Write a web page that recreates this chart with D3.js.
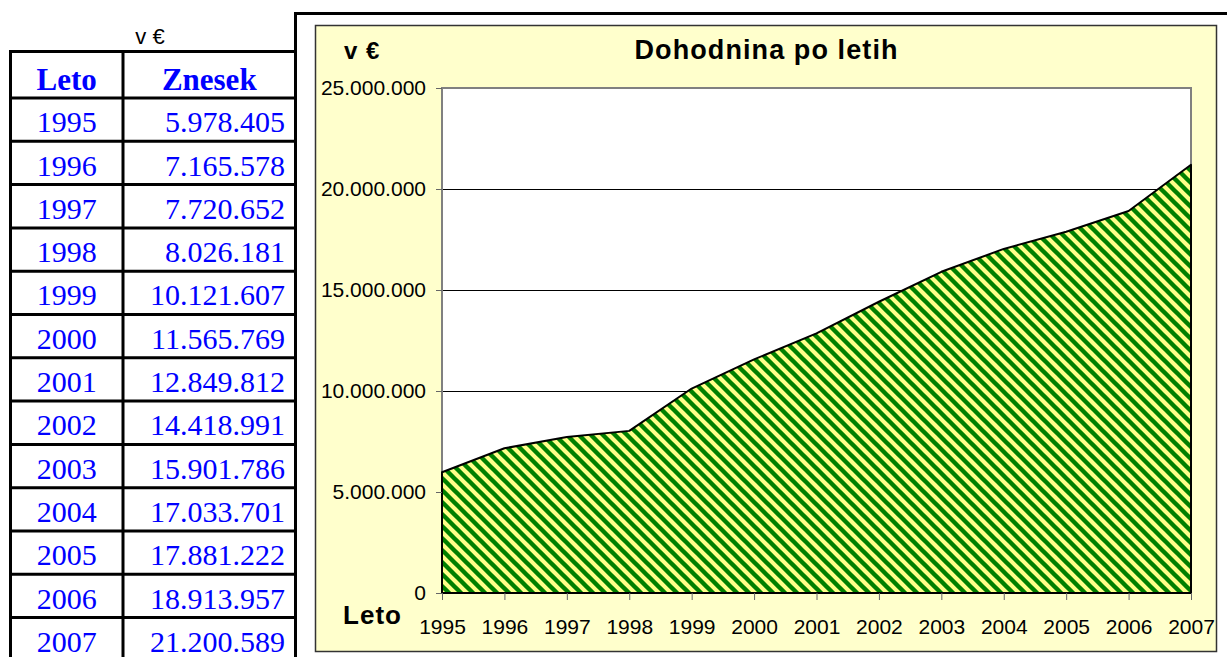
<!DOCTYPE html>
<html>
<head>
<meta charset="utf-8">
<script src="https://cdn.jsdelivr.net/npm/d3@7"></script>
<style>
  body { margin: 0; background: #fff; }
  svg { display: block; }
</style>
</head>
<body>
<svg width="1227" height="657"></svg>
<script>
var svg = d3.select("svg"),
    width = +svg.attr("width"),
    height = +svg.attr("height");

// data
var years = [1995, 1996, 1997, 1998, 1999, 2000, 2001, 2002, 2003, 2004, 2005, 2006, 2007];
var amounts = [5978405, 7165578, 7720652, 8026181, 10121607, 11565769, 12849812,
               14418991, 15901786, 17033701, 17881222, 18913957, 21200589];
var yTicks = [0, 5000000, 10000000, 15000000, 20000000, 25000000];

var data = years.map(function(y, i){ return {year: y, value: amounts[i]} });

// slovenian style thousands separator
var loc = d3.formatLocale({decimal: ",", thousands: ".", grouping: [3], currency: ["", " €"]});
var fmt = loc.format(",d");

// ---------- table on the left ----------
var tbl = svg.append("g");
var colL = 10.5, colM = 123, colR = 295.5;
var headTop = 51.5, headBot = 98, rowH = 43.3;

tbl.append("text")
    .attr("x", 150).attr("y", 44)
    .attr("text-anchor", "middle")
    .style("font-family", "Liberation Sans, Arial, sans-serif")
    .style("font-size", "22px")
    .text("v €");

tbl.append("text")
    .attr("x", (colL + colM) / 2).attr("y", headBot - 8)
    .attr("text-anchor", "middle")
    .style("font-family", "Liberation Serif, Times New Roman, serif")
    .style("font-weight", "bold")
    .style("font-size", "31px")
    .style("fill", "#0000ff")
    .text("Leto");

tbl.append("text")
    .attr("x", (colM + colR) / 2).attr("y", headBot - 8)
    .attr("text-anchor", "middle")
    .style("font-family", "Liberation Serif, Times New Roman, serif")
    .style("font-weight", "bold")
    .style("font-size", "31px")
    .style("fill", "#0000ff")
    .text("Znesek");

var rows = tbl.selectAll("g.row")
    .data(data)
    .enter()
    .append("g")
      .attr("class", "row")
      .attr("transform", function(d, i){ return "translate(0," + (headBot + i * rowH) + ")" });

rows.append("text")
    .attr("x", (colL + colM) / 2).attr("y", rowH - 9)
    .attr("text-anchor", "middle")
    .style("font-family", "Liberation Serif, Times New Roman, serif")
    .style("font-size", "30px")
    .style("fill", "#0000ff")
    .text(function(d){ return d.year });

rows.append("text")
    .attr("x", 285).attr("y", rowH - 9)
    .attr("text-anchor", "end")
    .style("font-family", "Liberation Serif, Times New Roman, serif")
    .style("font-size", "30px")
    .style("fill", "#0000ff")
    .text(function(d){ return fmt(d.value) });

// table lines
var hLines = [headTop, headBot].concat(data.map(function(d, i){ return headBot + (i + 1) * rowH }));
tbl.selectAll("line.h")
    .data(hLines)
    .enter()
    .append("line")
      .attr("x1", colL - 1.5).attr("x2", colR + 1.5)
      .attr("y1", function(d){ return d }).attr("y2", function(d){ return d })
      .attr("stroke", "#000").attr("stroke-width", 3);

tbl.selectAll("line.v")
    .data([colL, colM, colR])
    .enter()
    .append("line")
      .attr("x1", function(d){ return d }).attr("x2", function(d){ return d })
      .attr("y1", headTop).attr("y2", height)
      .attr("stroke", "#000").attr("stroke-width", 3);

// ---------- chart ----------
// outer black frame (top + left)
svg.append("path")
    .attr("d", "M" + colR + "," + height + "V13.5H" + width)
    .attr("fill", "none")
    .attr("stroke", "#000")
    .attr("stroke-width", 3);

// yellow chart area
svg.append("rect")
    .attr("x", 315.5).attr("y", 25.5)
    .attr("width", 901).attr("height", 626)
    .attr("fill", "#ffffcc")
    .attr("stroke", "#333")
    .attr("stroke-width", 1.5);

var plot = {left: 442, right: 1191, top: 88, bottom: 593};

var x = d3.scaleLinear()
    .domain([years[0], years[years.length - 1]])
    .range([plot.left, plot.right]);

var y = d3.scaleLinear()
    .domain([0, 25000000])
    .range([plot.bottom, plot.top]);

// hatch pattern
var defs = svg.append("defs");
var pat = defs.append("pattern")
    .attr("id", "hatch")
    .attr("patternUnits", "userSpaceOnUse")
    .attr("width", 12).attr("height", 12);
pat.append("rect").attr("width", 12).attr("height", 12).attr("fill", "#ffff88");
pat.append("path")
    .attr("d", "M-3,-3L15,15M-3,9L3,15M9,-3L15,3")
    .attr("stroke", "#008000")
    .attr("stroke-width", 4.4);

// plot background
svg.append("rect")
    .attr("x", plot.left).attr("y", plot.top)
    .attr("width", plot.right - plot.left).attr("height", plot.bottom - plot.top)
    .attr("fill", "#fff");

// gridlines
svg.append("g")
    .selectAll("line")
    .data(yTicks.slice(1, -1))
    .enter()
    .append("line")
      .attr("x1", plot.left).attr("x2", plot.right)
      .attr("y1", function(d){ return Math.round(y(d)) + 0.5 })
      .attr("y2", function(d){ return Math.round(y(d)) + 0.5 })
      .attr("stroke", "#000")
      .attr("stroke-width", 1);

// plot border
svg.append("rect")
    .attr("x", plot.left).attr("y", plot.top)
    .attr("width", plot.right - plot.left).attr("height", plot.bottom - plot.top)
    .attr("fill", "none")
    .attr("stroke", "#808080")
    .attr("stroke-width", 2);

// area
var area = d3.area()
    .x(function(d){ return x(d.year) })
    .y0(y(0))
    .y1(function(d){ return y(d.value) });

svg.append("path")
    .datum(data)
    .attr("d", area)
    .attr("fill", "url(#hatch)")
    .attr("stroke", "#000")
    .attr("stroke-width", 2)
    .attr("stroke-linejoin", "round");

// y axis
var yAxis = svg.append("g")
    .attr("transform", "translate(" + plot.left + ",0)")
    .call(d3.axisLeft(y).tickValues(yTicks).tickSize(6).tickPadding(10).tickFormat(fmt));
yAxis.select(".domain").remove();
yAxis.selectAll(".tick line").attr("stroke", "#666");
yAxis.selectAll("text")
    .style("font-family", "Liberation Sans, Arial, sans-serif")
    .style("font-size", "21px")
    .attr("fill", "#000");

// x axis
var xAxis = svg.append("g")
    .attr("transform", "translate(0," + plot.bottom + ")")
    .call(d3.axisBottom(x).tickValues(years).tickSize(7).tickPadding(19).tickFormat(d3.format("d")));
xAxis.select(".domain").remove();
xAxis.selectAll(".tick line").attr("stroke", "#666");
xAxis.selectAll("text")
    .style("font-family", "Liberation Sans, Arial, sans-serif")
    .style("font-size", "21px")
    .attr("fill", "#000");

// titles
svg.append("text")
    .attr("x", 766).attr("y", 59)
    .attr("text-anchor", "middle")
    .attr("textLength", 263)
    .attr("lengthAdjust", "spacing")
    .style("font-family", "Liberation Sans, Arial, sans-serif")
    .style("font-weight", "bold")
    .style("font-size", "27px")
    .text("Dohodnina po letih");

svg.append("text")
    .attr("x", 344).attr("y", 59)
    .style("font-family", "Liberation Sans, Arial, sans-serif")
    .style("font-weight", "bold")
    .style("font-size", "24px")
    .style("letter-spacing", "1px")
    .text("v €");

svg.append("text")
    .attr("x", 343).attr("y", 624)
    .attr("textLength", 58)
    .attr("lengthAdjust", "spacing")
    .style("font-family", "Liberation Sans, Arial, sans-serif")
    .style("font-weight", "bold")
    .style("font-size", "26px")
    .text("Leto");
</script>
</body>
</html>
